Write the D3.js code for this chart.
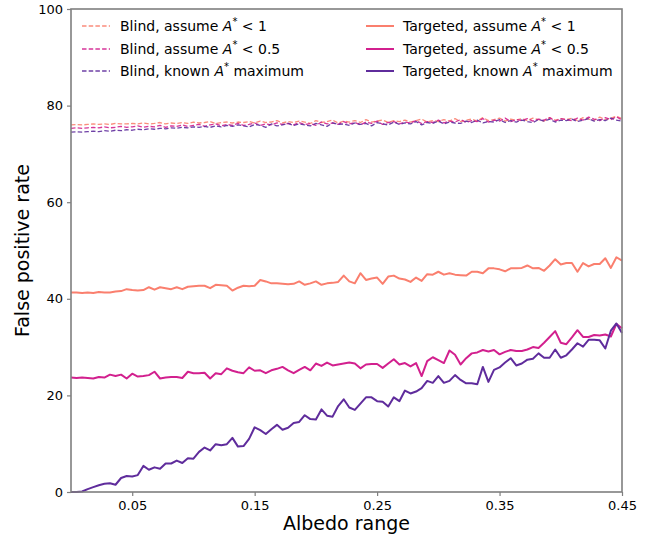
<!DOCTYPE html>
<html>
<head>
<meta charset="utf-8">
<script src="https://cdn.jsdelivr.net/npm/d3@7"></script>
<style>
  html, body { margin: 0; padding: 0; background: #fff; }
  svg { display: block; font-family: "DejaVu Sans", sans-serif; }
</style>
</head>
<body>
<svg id="chart" width="654" height="538"></svg>
<script>
// Albedo range samples: 100 evenly spaced values from 0 to 0.45
const nPoints = 100;
const albedo = d3.range(nPoints).map(i => 0.45 * i / (nPoints - 1));

const xTicks = [0.05, 0.15, 0.25, 0.35, 0.45];
const yTicks = [0, 20, 40, 60, 80, 100];

// False positive rate (%) for each strategy
const blindLt1 = [
  76.0, 76.1, 76.0, 76.1, 76.2, 76.1, 76.2, 76.1, 76.3, 76.2,
  76.2, 76.3, 76.2, 76.4, 76.2, 76.3, 76.5, 76.2, 76.4, 76.3,
  76.5, 76.3, 76.6, 76.4, 76.5, 76.7, 76.3, 76.5, 76.6, 76.4,
  76.6, 76.5, 76.7, 76.4, 76.8, 76.5, 76.6, 76.9, 76.4, 76.7,
  76.5, 76.8, 76.6, 76.3, 76.9, 76.5, 76.7, 77.0, 76.4, 76.8,
  76.6, 76.9, 76.5, 77.1, 76.6, 76.8, 77.0, 76.5, 76.9, 76.7,
  77.0, 76.6, 76.9, 77.2, 76.6, 76.9, 76.7, 77.1, 76.8, 77.3,
  76.7, 77.0, 77.2, 76.8, 77.5, 76.9, 77.1, 77.4, 76.8, 77.2,
  77.0, 77.3, 76.9, 77.4, 77.1, 76.8, 77.5, 77.0, 77.3, 77.1,
  77.4, 76.9, 77.5, 77.2, 77.0, 77.6, 77.1, 77.4, 77.8, 77.3
];
const blindLt05 = [
  75.3, 75.4, 75.3, 75.4, 75.5, 75.4, 75.6, 75.4, 75.5, 75.7,
  75.5, 75.6, 75.8, 75.5, 75.7, 75.6, 75.9, 75.5, 75.8, 75.7,
  76.0, 75.7, 75.9, 76.1, 75.7, 76.0, 76.2, 75.8, 76.1, 75.9,
  76.3, 75.9, 76.1, 76.4, 75.9, 76.2, 76.0, 76.4, 76.1, 76.3,
  76.0, 76.5, 76.1, 76.3, 75.9, 76.6, 76.2, 76.4, 76.1, 76.7,
  76.2, 76.5, 76.0, 76.6, 76.3, 76.8, 76.1, 76.5, 76.7, 76.2,
  76.6, 76.4, 76.9, 76.3, 76.7, 76.5, 77.0, 76.4, 76.8, 76.6,
  77.1, 76.5, 76.9, 76.7, 77.3, 76.6, 77.0, 76.8, 77.4, 76.7,
  77.1, 76.9, 77.3, 76.8, 77.2, 77.0, 77.5, 76.8, 77.3, 77.1,
  76.9, 77.4, 77.0, 77.6, 77.2, 76.9, 77.5, 77.1, 77.7, 77.0
];
const blindKnown = [
  74.5, 74.6, 74.5, 74.6, 74.7, 74.6, 74.8, 74.7, 74.9, 74.8,
  75.0, 74.9, 75.1, 75.0, 75.2, 75.1, 75.3, 75.2, 75.4, 75.3,
  75.5, 75.4, 75.6, 75.5, 75.7, 75.5, 75.8, 75.6, 75.9, 75.7,
  76.0, 75.8, 75.6, 76.1, 75.9, 75.5, 76.2, 75.8, 76.0, 76.3,
  75.9, 76.2, 76.0, 75.8, 76.3, 76.0, 75.7, 76.4, 76.1, 76.2,
  75.9, 76.4, 76.1, 76.3, 75.8, 76.5, 76.2, 76.0, 76.6, 76.1,
  76.4, 76.2, 76.7, 76.0, 76.5, 76.3, 76.8, 76.2, 76.6, 76.4,
  76.3, 76.8, 76.5, 77.0, 76.4, 76.7, 76.6, 77.1, 76.5, 76.9,
  76.6, 77.0, 76.7, 76.5, 77.1, 76.8, 77.2, 76.6, 77.0, 76.9,
  77.2, 76.7, 77.0, 77.3, 76.8, 77.1, 76.9, 77.4, 77.0, 76.8
];
const targetedLt1 = [
  41.3, 41.3, 41.2, 41.3, 41.2, 41.4, 41.3, 41.3, 41.5, 41.6,
  42.0, 41.8, 41.7, 41.8, 42.4, 41.9, 42.4, 42.2, 42.0, 42.4,
  42.0, 42.5, 42.6, 42.7, 42.7, 42.2, 42.9, 42.8, 42.7, 41.7,
  42.3, 42.7, 42.6, 42.7, 43.9, 43.6, 43.2, 43.2, 43.1, 43.0,
  43.1, 43.6, 42.9, 43.2, 43.6, 42.9, 43.2, 43.3, 43.5, 44.8,
  43.6, 43.2, 45.3, 43.9, 44.2, 44.4, 43.1, 44.6, 44.8, 44.2,
  44.0, 43.5, 44.4, 43.7, 45.1, 45.0, 45.6, 45.0, 45.3, 45.0,
  44.9, 44.8, 45.6, 45.6, 45.3, 46.3, 46.3, 46.1, 45.7, 46.3,
  46.3, 46.4, 46.9, 46.3, 46.4, 45.8, 46.9, 48.2, 47.1, 47.4,
  47.4, 45.6, 47.4, 46.7, 47.2, 47.2, 48.4, 46.4, 48.6, 47.9
];
const targetedLt05 = [
  23.7, 23.6, 23.7, 23.6, 23.5, 23.8, 23.7, 24.3, 24.0, 24.3,
  23.5, 24.5, 23.9, 24.0, 24.2, 24.9, 23.5, 23.7, 23.8, 23.8,
  23.6, 24.9, 24.6, 24.6, 24.7, 23.5, 24.6, 24.4, 25.6, 25.1,
  24.8, 24.6, 25.8, 25.1, 25.2, 24.6, 25.2, 25.5, 25.9, 25.2,
  24.6, 25.3, 25.9, 25.2, 26.6, 26.1, 26.8, 26.2, 26.4, 26.6,
  26.8, 26.6, 25.6, 26.4, 26.5, 26.5, 25.7, 26.6, 27.5, 26.4,
  26.7, 26.0, 26.7, 24.0, 27.1, 27.9, 27.3, 26.7, 29.3, 28.4,
  26.4, 27.7, 28.7, 28.9, 29.4, 29.1, 29.4, 28.5, 29.0, 29.4,
  29.2, 29.2, 29.5, 30.0, 29.8, 30.9, 32.1, 33.3, 30.9, 30.6,
  32.0, 33.5, 32.1, 32.1, 32.5, 32.4, 32.6, 32.2, 34.8, 33.9
];
const targetedKnown = [
  0.0, 0.0, 0.1, 0.6, 1.0, 1.4, 1.7, 1.8, 1.5, 2.9,
  3.3, 3.2, 3.5, 5.4, 4.6, 5.1, 4.8, 5.9, 5.9, 6.5,
  6.0, 7.0, 6.9, 8.3, 9.2, 8.6, 9.9, 9.7, 9.9, 11.2,
  9.4, 9.5, 11.0, 13.4, 12.8, 12.0, 13.0, 13.9, 12.9, 13.3,
  14.3, 14.5, 15.9, 15.1, 15.0, 17.1, 15.8, 15.6, 17.8, 19.2,
  17.5, 17.0, 18.3, 19.6, 19.6, 18.8, 18.7, 17.7, 19.6, 18.8,
  21.0, 20.4, 20.8, 21.5, 23.0, 22.6, 24.0, 22.6, 23.0, 24.2,
  23.2, 22.5, 22.5, 22.3, 25.9, 22.8, 25.3, 25.8, 26.8, 27.7,
  26.2, 26.6, 27.4, 27.6, 28.7, 27.8, 27.8, 29.5, 27.8, 28.3,
  29.5, 30.8, 30.1, 31.5, 31.5, 31.4, 29.7, 33.4, 34.9, 32.9
];

const colSalmon = "#fa7f6e";
const colMagenta = "#d2208e";
const colPurple = "#5f2c9c";

// Series definitions: label parts are [prefix, suffix] around the italic A*
const series = [
  { values: blindLt1,      color: colSalmon,  dashed: true,  pre: "Blind, assume ",    post: " < 1" },
  { values: blindLt05,     color: colMagenta, dashed: true,  pre: "Blind, assume ",    post: " < 0.5" },
  { values: blindKnown,    color: colPurple,  dashed: true,  pre: "Blind, known ",     post: " maximum" },
  { values: targetedLt1,   color: colSalmon,  dashed: false, pre: "Targeted, assume ", post: " < 1" },
  { values: targetedLt05,  color: colMagenta, dashed: false, pre: "Targeted, assume ", post: " < 0.5" },
  { values: targetedKnown, color: colPurple,  dashed: false, pre: "Targeted, known ",  post: " maximum" }
];

const svg = d3.select("#chart");
const margin = { left: 71, right: 32, top: 9, bottom: 46 };
const W = 654, H = 538;

const x = d3.scaleLinear().domain([0, 0.45]).range([margin.left, W - margin.right]);
const y = d3.scaleLinear().domain([0, 100]).range([H - margin.bottom, margin.top]);

const axisColor = "#7f7f7f";
const dashW = 1.3, dashPattern = "4.5,2.2";

// Lines
const line = d3.line().x((d, i) => x(albedo[i])).y(d => y(d));
const plot = svg.append("g");
series.forEach(s => {
  plot.append("path")
    .datum(s.values)
    .attr("fill", "none")
    .attr("stroke", s.color)
    .attr("stroke-width", s.dashed ? dashW : 2)
    .attr("stroke-opacity", s.dashed ? 0.9 : 1)
    .attr("stroke-dasharray", s.dashed ? dashPattern : null)
    .attr("stroke-linejoin", "round")
    .attr("d", line);
});

// Axes
const xAxis = svg.append("g")
  .attr("transform", `translate(0,${H - margin.bottom})`)
  .call(d3.axisBottom(x).tickValues(xTicks).tickFormat(d3.format(".2f")).tickSize(4).tickPadding(5));
const yAxis = svg.append("g")
  .attr("transform", `translate(${margin.left},0)`)
  .call(d3.axisLeft(y).tickValues(yTicks).tickFormat(d3.format("d")).tickSize(4).tickPadding(4));

[xAxis, yAxis].forEach(g => {
  g.select(".domain").remove();
  g.selectAll(".tick line").attr("stroke", axisColor).attr("stroke-width", 1.2);
  g.selectAll(".tick text")
    .attr("fill", "#000")
    .attr("font-size", 13)
    .attr("font-family", "DejaVu Sans, sans-serif");
});

// Frame
svg.append("rect")
  .attr("x", x(0)).attr("y", y(100))
  .attr("width", x(0.45) - x(0)).attr("height", y(0) - y(100))
  .attr("fill", "none")
  .attr("stroke", axisColor)
  .attr("stroke-width", 1.6);

// Axis titles
svg.append("text")
  .attr("x", (x(0) + x(0.45)) / 2)
  .attr("y", 530)
  .attr("text-anchor", "middle")
  .attr("font-size", 19)
  .text("Albedo range");
svg.append("text")
  .attr("transform", `translate(29,${(y(0) + y(100)) / 2}) rotate(-90)`)
  .attr("text-anchor", "middle")
  .attr("font-size", 19)
  .text("False positive rate");

// Legend: two columns of three entries
function legendEntry(s, lx, ly, textGap) {
  const g = svg.append("g").attr("transform", `translate(${lx},${ly})`);
  g.append("line")
    .attr("x1", 0).attr("x2", 28).attr("y1", 0).attr("y2", 0)
    .attr("stroke", s.color)
    .attr("stroke-width", s.dashed ? dashW : 2)
    .attr("stroke-opacity", s.dashed ? 0.9 : 1)
    .attr("stroke-dasharray", s.dashed ? dashPattern : null);
  const t = g.append("text")
    .attr("x", textGap).attr("y", 5)
    .attr("font-size", 14)
    .attr("fill", "#000");
  t.append("tspan").text(s.pre);
  t.append("tspan").attr("font-style", "italic").text("A");
  t.append("tspan").attr("dy", -6).attr("font-size", 10).text("*");
  t.append("tspan").attr("dy", 6).text(s.post);
}
const rowY = [26, 49, 71];
series.slice(0, 3).forEach((s, i) => legendEntry(s, 82, rowY[i], 38));
series.slice(3).forEach((s, i) => legendEntry(s, 366, rowY[i], 37));
</script>
</body>
</html>
